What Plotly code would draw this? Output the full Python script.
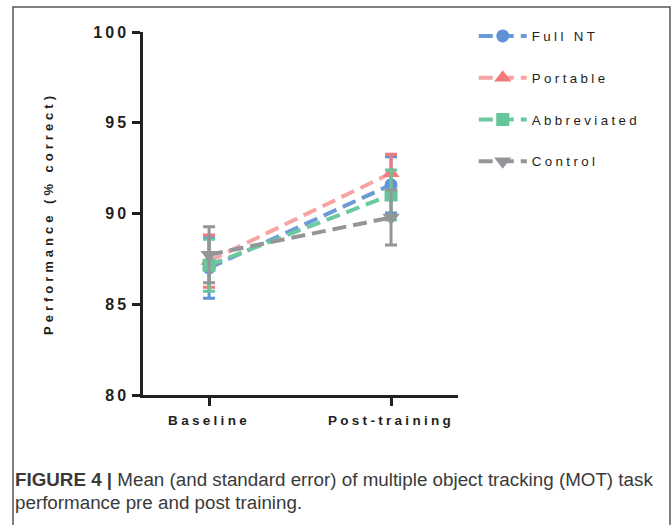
import plotly.graph_objects as go

categories = ["Baseline", "Post-training"]
series_names = ["Full NT", "Portable", "Abbreviated", "Control"]
full_nt_mean = [87.0, 91.58]
full_nt_se = [1.67, 1.55]
portable_mean = [87.38, 92.22]
portable_se = [1.44, 1.04]
abbreviated_mean = [87.15, 91.02]
abbreviated_se = [1.43, 1.38]
control_mean = [87.73, 89.78]
control_se = [1.54, 1.52]
y_ticks = [80, 85, 90, 95, 100]

means = [full_nt_mean, portable_mean, abbreviated_mean, control_mean]
ses = [full_nt_se, portable_se, abbreviated_se, control_se]
line_colors = ["#6b9bd6", "#f6a5a5", "#6cc89e", "#939598"]
marker_colors = ["#5f93d8", "#f47a7a", "#66c59a", "#939598"]
symbols = ["circle", "triangle-up", "square", "triangle-down"]
sizes = [13, 15, 13, 15]

AX = "#231f20"
xpos = list(range(len(categories)))

fig = go.Figure()
for i, name in enumerate(series_names):
    fig.add_trace(go.Scatter(
        x=xpos, y=means[i], name=f'<span style="letter-spacing:3.4px">{name}</span>',
        mode="lines+markers",
        line=dict(color=line_colors[i], width=4, dash="14px,7px"),
        marker=dict(symbol=symbols[i], size=sizes[i], color=marker_colors[i], line=dict(width=0)),
        error_y=dict(type="data", array=ses[i], color=marker_colors[i], thickness=3, width=6),
        legendgroup=name,
    ))

fig.update_layout(
    width=672, height=525,
    margin=dict(l=143, r=214, t=32, b=130),
    paper_bgcolor="white", plot_bgcolor="white",
    font=dict(family="Liberation Sans, Arial, sans-serif", color=AX),
    showlegend=True,
    legend=dict(x=1.05, y=1.031, xanchor="left", yanchor="top",
                font=dict(size=13.3, color=AX), tracegroupgap=21.5, itemwidth=48,
                bgcolor="rgba(0,0,0,0)"),
    xaxis=dict(range=[-0.363, 1.368], tickvals=xpos,
               ticktext=[f'<span style="letter-spacing:3.3px">{c}</span>' for c in categories],
               tickfont=dict(size=13.5, color=AX, family="Liberation Sans, Arial, sans-serif", weight="bold"),
               showline=True, linecolor=AX, linewidth=2.5, ticks="outside", ticklen=8,
               tickwidth=2.5, tickcolor=AX, showgrid=False, zeroline=False, ticklabelstandoff=3),
    yaxis=dict(range=[80, 100], tickvals=y_ticks,
               ticktext=[f'<span style="letter-spacing:3px">{t}</span>' for t in y_ticks],
               tickfont=dict(size=16, color=AX, family="Liberation Sans, Arial, sans-serif", weight="bold"),
               showline=True, linecolor=AX, linewidth=2.5, ticks="outside", ticklen=8,
               tickwidth=2.5, tickcolor=AX, showgrid=False, zeroline=False),
)

fig.add_annotation(xref="paper", yref="paper", x=-0.3302, y=0.5,
                   text='<span style="letter-spacing:4px">Performance (% correct)</span>',
                   textangle=-90, showarrow=False, font=dict(size=13, color=AX, weight="bold"))

fig.add_annotation(xref="paper", yref="paper", x=-0.413, y=-0.234, xanchor="left", yanchor="middle",
                   text="<b>FIGURE 4 |</b> Mean (and standard error) of multiple object tracking (MOT) task",
                   showarrow=False, font=dict(size=18.8, color="#3a3a3a"))
fig.add_annotation(xref="paper", yref="paper", x=-0.413, y=-0.2975, xanchor="left", yanchor="middle",
                   text="performance pre and post training.",
                   showarrow=False, font=dict(size=18.8, color="#3a3a3a"))

fig.add_shape(type="rect", xref="paper", yref="paper",
              x0=(13 - 143) / 315, x1=(670 - 143) / 315,
              y0=(395 - 540) / 363, y1=(395 - 7) / 363,
              line=dict(color="#555555", width=1.5), fillcolor="rgba(0,0,0,0)", layer="below")

fig.write_html("out.html")
